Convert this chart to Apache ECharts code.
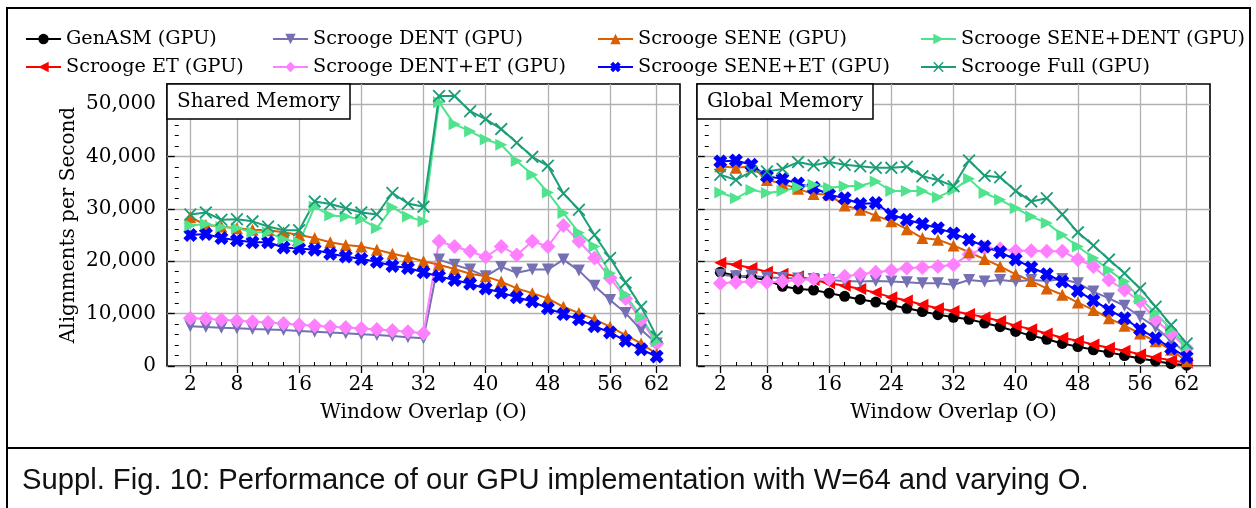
<!DOCTYPE html>
<html>
<head>
<meta charset="utf-8">
<script src="https://cdn.jsdelivr.net/npm/echarts@6/dist/echarts.min.js"></script>
<style>
  html, body { margin: 0; padding: 0; background: #ffffff; }
  #chart { width: 1256px; height: 508px; }
</style>
</head>
<body>
<div id="chart"></div>
<script>
// Window overlap values (O) and tick positions
const overlaps = [2,4,6,8,10,12,14,16,18,20,22,24,26,28,30,32,34,36,38,40,42,44,46,48,50,52,54,56,58,60,62];
const xMajorTicks = [2,8,16,24,32,40,48,56,62];
const xMinorTicks = [4,6,10,12,14,18,20,22,26,28,30,34,36,38,42,44,46,50,52,54,58,60];
const yMajorTicks = [0,10000,20000,30000,40000,50000];
const yMinorTicks = [2000,4000,6000,8000,12000,14000,16000,18000,22000,24000,26000,28000,32000,34000,36000,38000,42000,44000,46000,48000,52000];

// Shared memory: alignments per second
const sharedDent = [7600,7450,7300,7200,7050,6950,6850,6700,6550,6400,6250,6050,5900,5700,5500,5300,20300,19300,18400,17100,18900,17800,18400,18400,20300,18200,15300,12600,10100,6900,4300];
const sharedDentEt = [9100,9000,8800,8650,8450,8300,8100,7850,7700,7500,7350,7150,6950,6750,6550,6250,23800,22800,21900,20800,22800,21200,23800,22800,26800,23800,20600,16800,12900,8800,4300];
const sharedSene = [28400,26900,26600,26300,26000,25900,25500,25000,24400,23600,23100,22800,22200,21400,20800,20000,19300,18500,17600,17100,16100,14800,13900,12900,11300,10100,8900,7500,5900,4300,2300];
const sharedSeneEt = [25000,25200,24400,24000,23600,23600,22600,22400,22200,21400,20900,20400,19900,19100,18700,17900,17100,16400,15700,14800,14000,13100,12300,11000,9900,8900,7600,6400,4800,3200,1800];
const sharedSeneDent = [26800,27100,26500,26300,25500,25500,24200,23600,30400,28700,28500,28000,26300,30300,28500,27600,50300,46100,44800,43200,42200,39100,36500,33100,29200,25400,22800,17700,13600,9300,4700];
const sharedFull = [28900,29300,27900,28000,27600,26600,25900,25900,31400,30900,30100,29300,28900,33000,31000,30400,51500,51500,48600,47100,45200,42600,39900,38200,32900,29800,25000,20600,15900,11300,5600];

// Global memory: alignments per second
const globalGenasm = [17900,17200,16900,16400,15200,14700,14500,13900,13300,12700,12200,11600,11000,10400,9800,9300,8900,8200,7500,6600,5800,5100,4300,3700,3100,2600,2000,1450,950,450,150];
const globalEt = [19700,19300,18700,18000,17600,17100,16400,15800,15300,14700,14000,13100,12500,11700,11000,10500,9900,9300,8600,7700,7000,6200,5400,4800,4100,3500,2900,2250,1600,1100,640];
const globalDent = [17400,17100,17200,16900,16800,16700,16600,16400,16200,16100,16200,16100,16000,15800,15800,15500,16400,16100,16400,16100,16400,16200,16600,15800,14200,12900,11500,9400,7400,4800,2400];
const globalDentEt = [15800,16000,16100,16000,16100,16400,16600,16600,17100,17500,17900,18200,18700,18800,19000,19300,21300,22500,22300,22000,22000,21900,21900,20300,19000,16400,14500,12300,8800,6200,3400];
const globalSene = [38100,37800,38100,35500,34800,33800,32800,32700,30600,29800,28700,27600,26100,24400,24100,23000,21700,20400,19000,17500,16200,14800,13600,12100,10700,9100,7700,6200,4700,3100,900];
const globalSeneEt = [39000,39200,38400,36200,35700,34800,34000,32700,32000,30900,31100,28900,27900,27100,26300,25300,24100,22800,21700,20300,18800,17500,16100,14300,12500,10700,9100,7000,5300,3400,1700];
const globalSeneDent = [33100,32000,33600,33000,33400,34100,34600,34000,34300,34400,35200,33400,33400,33400,32200,33600,35700,33000,31700,30100,28500,27300,25000,22800,20600,18300,16100,12900,10100,7000,3700];
const globalFull = [36500,35500,37100,37100,37600,38900,38300,38900,38400,38100,37800,37800,38000,36200,35500,34300,39200,36300,36000,33400,31400,32000,28900,25500,23000,20300,17700,14800,11300,7800,4300];

const FONT = 'DejaVu Serif';
const Y_MAX = 53800;
const X_MIN = -1, X_MAX = 65;

// marker shapes
const FILLED_X = 'path://M0,27 L27,0 L50,23 L73,0 L100,27 L77,50 L100,73 L73,100 L50,77 L27,100 L0,73 L23,50 Z';
const THIN_X = 'path://M0,10 L10,0 L50,40 L90,0 L100,10 L60,50 L100,90 L90,100 L50,60 L10,100 L0,90 L40,50 Z';

const styles = {
  'GenASM (GPU)':               { color: '#000000', symbol: 'circle',   size: 11, rotate: 0 },
  'Scrooge ET (GPU)':           { color: '#ff0000', symbol: 'triangle', size: 12, rotate: 90 },
  'Scrooge DENT (GPU)':         { color: '#7570b3', symbol: 'triangle', size: 12, rotate: 180 },
  'Scrooge DENT+ET (GPU)':      { color: '#ff80ff', symbol: 'diamond',  size: 15, rotate: 0 },
  'Scrooge SENE (GPU)':         { color: '#d95f02', symbol: 'triangle', size: 12, rotate: 0 },
  'Scrooge SENE+ET (GPU)':      { color: '#0000ff', symbol: FILLED_X,  size: 14, rotate: 0 },
  'Scrooge SENE+DENT (GPU)':    { color: '#4ee38c', symbol: 'triangle', size: 12, rotate: -90 },
  'Scrooge Full (GPU)':         { color: '#1b9e77', symbol: THIN_X,    size: 13, rotate: 0 }
};

function pairs(values) { return overlaps.map((o, i) => [o, values[i]]); }

function makeSeries(name, values, panel) {
  const s = styles[name];
  return {
    name: name,
    type: 'line',
    xAxisIndex: panel * 2,
    yAxisIndex: panel * 2,
    data: pairs(values),
    symbol: s.symbol,
    symbolSize: s.size,
    symbolRotate: s.rotate,
    showSymbol: true,
    showAllSymbol: true,
    lineStyle: { color: s.color, width: 2 },
    itemStyle: { color: s.color },
    emphasis: { disabled: true },
    animation: false
  };
}

const series = [
  makeSeries('Scrooge DENT (GPU)', sharedDent, 0),
  makeSeries('Scrooge DENT+ET (GPU)', sharedDentEt, 0),
  makeSeries('Scrooge SENE (GPU)', sharedSene, 0),
  makeSeries('Scrooge SENE+ET (GPU)', sharedSeneEt, 0),
  makeSeries('Scrooge SENE+DENT (GPU)', sharedSeneDent, 0),
  makeSeries('Scrooge Full (GPU)', sharedFull, 0),
  makeSeries('GenASM (GPU)', globalGenasm, 1),
  makeSeries('Scrooge ET (GPU)', globalEt, 1),
  makeSeries('Scrooge DENT (GPU)', globalDent, 1),
  makeSeries('Scrooge DENT+ET (GPU)', globalDentEt, 1),
  makeSeries('Scrooge SENE (GPU)', globalSene, 1),
  makeSeries('Scrooge SENE+ET (GPU)', globalSeneEt, 1),
  makeSeries('Scrooge SENE+DENT (GPU)', globalSeneDent, 1),
  makeSeries('Scrooge Full (GPU)', globalFull, 1)
];

const gridLine = { show: true, lineStyle: { color: '#b0b0b0', width: 1.3 } };

function xAxes(gridIndex) {
  return [
    {
      type: 'value', gridIndex: gridIndex, min: X_MIN, max: X_MAX,
      name: 'Window Overlap (O)', nameLocation: 'middle', nameGap: 37,
      nameTextStyle: { fontFamily: FONT, fontSize: 20, color: '#000' },
      axisLine: { show: false },
      axisTick: { show: true, length: 7, customValues: xMajorTicks, lineStyle: { color: '#000', width: 1.3 } },
      axisLabel: { show: true, customValues: xMajorTicks, margin: 9, fontFamily: FONT, fontSize: 20, color: '#000' },
      splitLine: gridLine
    },
    {
      type: 'value', gridIndex: gridIndex, min: X_MIN, max: X_MAX,
      axisLine: { show: false },
      axisTick: { show: true, length: 4, customValues: xMinorTicks, lineStyle: { color: '#000', width: 1 } },
      axisLabel: { show: false },
      splitLine: { show: false }
    }
  ];
}

function yAxes(gridIndex, withLabels) {
  return [
    {
      type: 'value', gridIndex: gridIndex, min: 0, max: Y_MAX,
      name: withLabels ? 'Alignments per Second' : '',
      nameLocation: 'middle', nameGap: 88, nameRotate: 90,
      nameTextStyle: { fontFamily: FONT, fontSize: 20, color: '#000' },
      axisLine: { show: false },
      axisTick: { show: true, length: 7, customValues: yMajorTicks, lineStyle: { color: '#000', width: 1.3 } },
      axisLabel: {
        show: withLabels, customValues: yMajorTicks, margin: 11,
        fontFamily: FONT, fontSize: 20, color: '#000', padding: [3, 0, 0, 0],
        formatter: v => v.toLocaleString('en-US')
      },
      splitLine: gridLine
    },
    {
      type: 'value', gridIndex: gridIndex, min: 0, max: Y_MAX,
      axisLine: { show: false },
      axisTick: { show: true, length: 4, customValues: yMinorTicks, lineStyle: { color: '#000', width: 1 } },
      axisLabel: { show: false },
      splitLine: { show: false }
    }
  ];
}

const legendColumns = [
  { left: 25,  names: ['GenASM (GPU)', 'Scrooge ET (GPU)'] },
  { left: 272, names: ['Scrooge DENT (GPU)', 'Scrooge DENT+ET (GPU)'] },
  { left: 597, names: ['Scrooge SENE (GPU)', 'Scrooge SENE+ET (GPU)'] },
  { left: 920, names: ['Scrooge SENE+DENT (GPU)', 'Scrooge Full (GPU)'] }
];

const legends = legendColumns.map(col => ({
  orient: 'vertical',
  left: col.left,
  top: 29,
  padding: 0,
  itemGap: 8,
  itemWidth: 35,
  itemHeight: 13,
  selectedMode: false,
  data: col.names,
  textStyle: { fontFamily: FONT, fontSize: 19.2, color: '#000', lineHeight: 20 }
}));

const panelTitle = (text, left) => ({
  text: text,
  left: left,
  top: 84,
  padding: [6, 10, 6, 10],
  backgroundColor: '#ffffff',
  borderColor: '#000000',
  borderWidth: 1.5,
  textStyle: { fontFamily: FONT, fontSize: 20, fontWeight: 'normal', color: '#000', lineHeight: 23 },
  z: 10
});

const chart = echarts.init(document.getElementById('chart'), null, { renderer: 'canvas' });
chart.setOption({
  backgroundColor: '#ffffff',
  animation: false,
  title: [panelTitle('Shared Memory', 167), panelTitle('Global Memory', 697)],
  legend: legends,
  grid: [
    { left: 167, top: 84, width: 513, height: 282, show: true, borderColor: '#000', borderWidth: 1.6, backgroundColor: 'transparent' },
    { left: 697, top: 84, width: 513, height: 282, show: true, borderColor: '#000', borderWidth: 1.6, backgroundColor: 'transparent' }
  ],
  xAxis: [...xAxes(0), ...xAxes(1)],
  yAxis: [...yAxes(0, true), ...yAxes(1, false)],
  series: series,
  graphic: [
    { type: 'line', shape: { x1: 7, y1: 8, x2: 7, y2: 508 }, style: { stroke: '#000', lineWidth: 2 }, silent: true },
    { type: 'line', shape: { x1: 1250, y1: 8, x2: 1250, y2: 508 }, style: { stroke: '#000', lineWidth: 2 }, silent: true },
    { type: 'line', shape: { x1: 6, y1: 8, x2: 1251, y2: 8 }, style: { stroke: '#000', lineWidth: 2 }, silent: true },
    { type: 'line', shape: { x1: 6, y1: 448, x2: 1251, y2: 448 }, style: { stroke: '#000', lineWidth: 2 }, silent: true },
    {
      type: 'text', left: 22, top: 466, silent: true,
      style: {
        text: 'Suppl. Fig. 10: Performance of our GPU implementation with W=64 and varying O.',
        font: '29.2px "Liberation Sans", Arial, sans-serif',
        fill: '#111'
      }
    }
  ]
});
</script>
</body>
</html>
